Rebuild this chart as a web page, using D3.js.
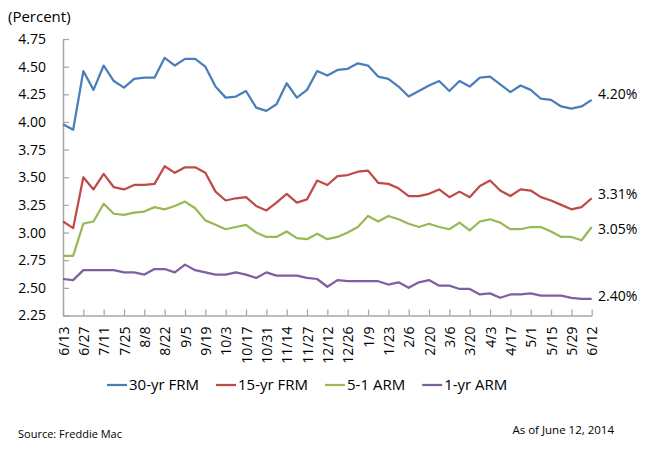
<!DOCTYPE html>
<html>
<head>
<meta charset="utf-8">
<script src="https://cdn.jsdelivr.net/npm/d3@7"></script>
<style>
  html, body { margin: 0; padding: 0; background: #fff; }
  svg { display: block; font-family: "Open Sans", "Noto Sans", sans-serif; }
</style>
</head>
<body>
<svg id="chart" width="655" height="450"></svg>
<script>
// ---- Data ----
const weeks = ["6/13","6/20","6/27","7/3","7/11","7/18","7/25","8/1","8/8","8/15",
  "8/22","8/29","9/5","9/12","9/19","9/26","10/3","10/10","10/17","10/24",
  "10/31","11/7","11/14","11/21","11/27","12/5","12/12","12/19","12/26","1/2",
  "1/9","1/16","1/23","1/30","2/6","2/13","2/20","2/27","3/6","3/13",
  "3/20","3/27","4/3","4/10","4/17","4/24","5/1","5/8","5/15","5/22",
  "5/29","6/5","6/12"];

const frm30 = [3.98,3.93,4.46,4.29,4.51,4.37,4.31,4.39,4.40,4.40,
  4.58,4.51,4.57,4.57,4.50,4.32,4.22,4.23,4.28,4.13,
  4.10,4.16,4.35,4.22,4.29,4.46,4.42,4.47,4.48,4.53,
  4.51,4.41,4.39,4.32,4.23,4.28,4.33,4.37,4.28,4.37,
  4.32,4.40,4.41,4.34,4.27,4.33,4.29,4.21,4.20,4.14,
  4.12,4.14,4.20];

const frm15 = [3.10,3.04,3.50,3.39,3.53,3.41,3.39,3.43,3.43,3.44,
  3.60,3.54,3.59,3.59,3.54,3.37,3.29,3.31,3.32,3.24,
  3.20,3.27,3.35,3.27,3.30,3.47,3.43,3.51,3.52,3.55,
  3.56,3.45,3.44,3.40,3.33,3.33,3.35,3.39,3.32,3.37,
  3.32,3.42,3.47,3.38,3.33,3.39,3.38,3.32,3.29,3.25,
  3.21,3.23,3.31];

const arm51 = [2.79,2.79,3.08,3.10,3.26,3.17,3.16,3.18,3.19,3.23,
  3.21,3.24,3.28,3.22,3.11,3.07,3.03,3.05,3.07,3.00,
  2.96,2.96,3.01,2.95,2.94,2.99,2.94,2.96,3.00,3.05,
  3.15,3.10,3.15,3.12,3.08,3.05,3.08,3.05,3.03,3.09,
  3.02,3.10,3.12,3.09,3.03,3.03,3.05,3.05,3.01,2.96,
  2.96,2.93,3.05];

const arm1 = [2.58,2.57,2.66,2.66,2.66,2.66,2.64,2.64,2.62,2.67,
  2.67,2.64,2.71,2.66,2.64,2.62,2.62,2.64,2.62,2.59,
  2.64,2.61,2.61,2.61,2.59,2.58,2.51,2.57,2.56,2.56,
  2.56,2.56,2.53,2.55,2.50,2.55,2.57,2.52,2.52,2.49,
  2.49,2.44,2.45,2.41,2.44,2.44,2.45,2.43,2.43,2.43,
  2.41,2.40,2.40];

const seriesNames = ["30-yr FRM", "15-yr FRM", "5-1 ARM", "1-yr ARM"];
const yTicks = [2.25, 2.50, 2.75, 3.00, 3.25, 3.50, 3.75, 4.00, 4.25, 4.50, 4.75];
const xTickLabels = weeks.filter((d, i) => i % 2 === 0);

// ---- Styles / layout ----
const colors = ["#4A7EBB", "#BE4B48", "#98B954", "#7D60A0"];
const endLabelDy = [-6, -4, 2, -3];
const axisColor = "#A6A6A6";

const svg = d3.select("#chart");
const x = d3.scalePoint().domain(weeks).range([63, 591.7]).padding(0);
const y = d3.scaleLinear().domain([2.25, 4.75]).range([315.5, 39]);

const series = [frm30, frm15, arm51, arm1].map((vals, i) => ({
  name: seriesNames[i],
  color: colors[i],
  values: vals.map((v, j) => ({ week: weeks[j], value: v }))
}));

// Y axis
const yAxis = svg.append("g")
  .attr("transform", `translate(${x.range()[0]},0)`)
  .call(d3.axisLeft(y).tickValues(yTicks).tickFormat(d3.format(".2f"))
    .tickSizeInner(-6).tickSizeOuter(0).tickPadding(17));
yAxis.select(".domain").attr("stroke", axisColor).attr("stroke-width", 1.5);
yAxis.selectAll(".tick line").attr("stroke", axisColor).attr("stroke-width", 1.25);
yAxis.selectAll(".tick text")
  .attr("fill", "#000")
  .style("font-size", "14px")
  .style("font-family", "'Open Sans', sans-serif");

// X axis
const xAxis = svg.append("g")
  .attr("transform", `translate(0,${y.range()[0]})`)
  .call(d3.axisBottom(x).tickValues(xTickLabels)
    .tickSizeInner(-6).tickSizeOuter(0).tickPadding(0));
xAxis.select(".domain").attr("stroke", axisColor).attr("stroke-width", 1.5);
xAxis.selectAll(".tick line").attr("stroke", axisColor).attr("stroke-width", 1.25);
xAxis.selectAll(".tick text")
  .attr("fill", "#000")
  .attr("transform", "rotate(-90)")
  .attr("text-anchor", "end")
  .attr("x", -11)
  .attr("y", 0)
  .attr("dy", "0.36em")
  .style("font-size", "14px")
  .style("font-family", "'Open Sans', sans-serif");

// Lines
const line = d3.line().x(d => x(d.week)).y(d => y(d.value));
svg.append("g").selectAll("path")
  .data(series)
  .join("path")
  .attr("fill", "none")
  .attr("stroke", d => d.color)
  .attr("stroke-width", 2.25)
  .attr("stroke-linejoin", "round")
  .attr("d", d => line(d.values));

// End labels
svg.append("g").selectAll("text")
  .data(series)
  .join("text")
  .attr("x", 598)
  .attr("y", (d, i) => y(d.values[d.values.length - 1].value) + endLabelDy[i])
  .attr("dy", "0.35em")
  .attr("fill", "#000")
  .style("font-size", "14px")
  .text(d => d3.format(".2f")(d.values[d.values.length - 1].value) + "%");

// Y title
svg.append("text")
  .attr("x", 8).attr("y", 17).attr("dy", "0.35em")
  .attr("fill", "#000")
  .style("font-size", "15px")
  .text("(Percent)");

// Legend
const legend = svg.append("g").attr("transform", "translate(0,385)");
let lx = 107;
series.forEach(s => {
  legend.append("line")
    .attr("x1", lx).attr("x2", lx + 20)
    .attr("y1", 0).attr("y2", 0)
    .attr("stroke", s.color).attr("stroke-width", 2.25);
  const t = legend.append("text")
    .attr("x", lx + 22).attr("y", 0).attr("dy", "0.35em")
    .attr("fill", "#000")
    .style("font-size", "15px")
    .text(s.name);
  lx += 22 + t.node().getComputedTextLength() + 17;
});

// Footer
svg.append("text")
  .attr("x", 18).attr("y", 434).attr("dy", "0.35em")
  .attr("fill", "#000")
  .style("font-size", "11px")
  .text("Source: Freddie Mac");
svg.append("text")
  .attr("x", 614).attr("y", 430).attr("dy", "0.35em")
  .attr("text-anchor", "end")
  .attr("fill", "#000")
  .style("font-size", "11.5px")
  .text("As of June 12, 2014");
</script>
</body>
</html>
